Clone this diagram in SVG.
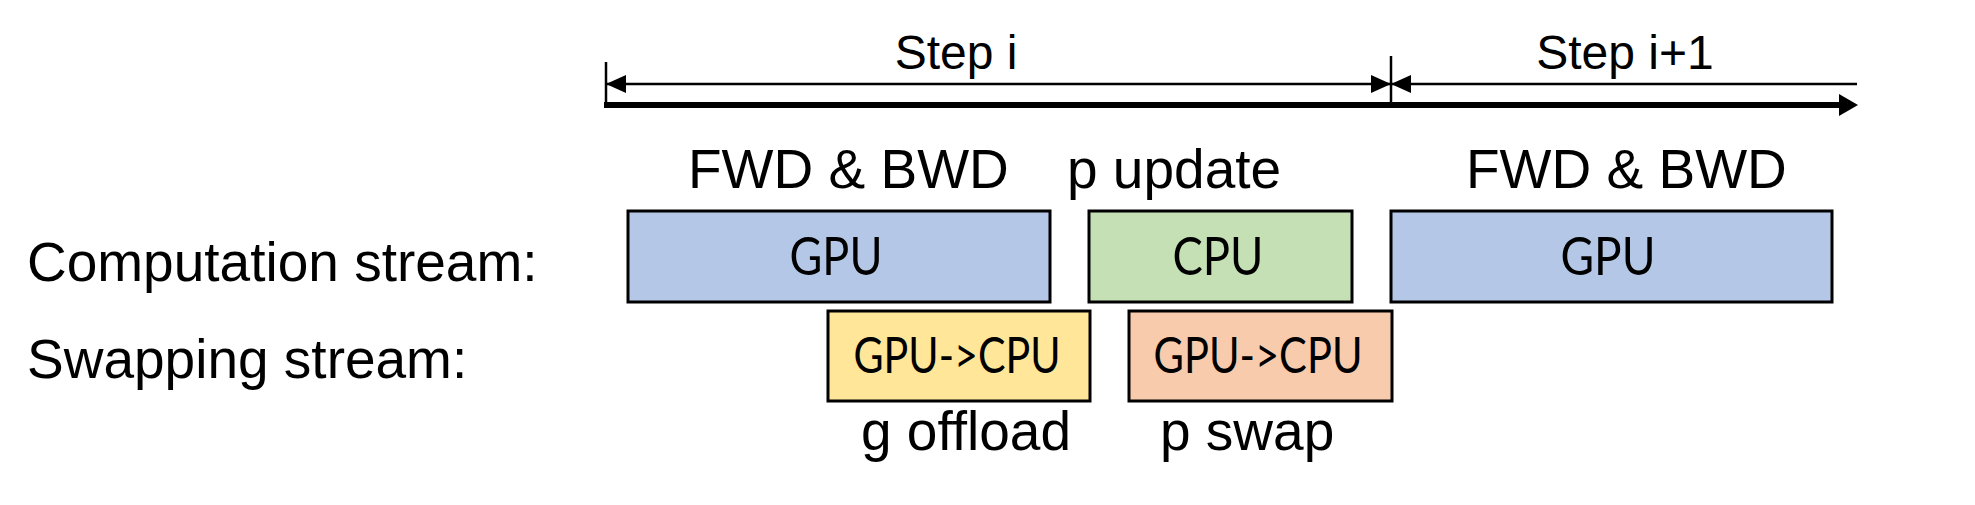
<svg xmlns="http://www.w3.org/2000/svg" width="1975" height="505" viewBox="0 0 1975 505">
  <style>
    .lbl { font-family: "Liberation Sans", Arial, sans-serif; font-size: 55px; fill: #000; }
    .step { font-family: "Liberation Sans", Arial, sans-serif; font-size: 48px; fill: #000; text-anchor: middle; }
    .box { stroke: #000; stroke-width: 3; }
    .btxt { font-family: Lato, "Open Sans", sans-serif; fill: #000; text-anchor: middle; }
    .thin { stroke: #000; stroke-width: 2.5; fill: none; }
    .thick { stroke: #000; stroke-width: 6; fill: none; }
    .blue { fill: #B4C7E7; }
    .green { fill: #C5E0B4; }
    .yellow { fill: #FFE699; }
    .orange { fill: #F8CBAD; }
  </style>
  <defs>
    <marker id="ah" viewBox="0 0 20 18" refX="20" refY="9" markerWidth="20" markerHeight="18" markerUnits="userSpaceOnUse" orient="auto-start-reverse">
      <path d="M0,0 L20,9 L0,18 Z" fill="#000"/>
    </marker>
    <marker id="ahBig" viewBox="0 0 19 22" refX="0" refY="11" markerWidth="19" markerHeight="22" markerUnits="userSpaceOnUse" orient="auto">
      <path d="M0,0 L19,11 L0,22 Z" fill="#000"/>
    </marker>
  </defs>
  <rect width="1975" height="505" fill="#fff"/>

  <g id="connectors">
    <line class="thin" x1="606" y1="62" x2="606" y2="107"/>
    <line class="thin" x1="1391" y1="56" x2="1391" y2="108"/>
    <line class="thin" x1="606" y1="84" x2="1391" y2="84" marker-start="url(#ah)" marker-end="url(#ah)"/>
    <line class="thin" x1="1391" y1="84" x2="1857" y2="84" marker-start="url(#ah)"/>
    <line class="thick" x1="604" y1="105" x2="1839" y2="105" marker-end="url(#ahBig)"/>
  </g>

  <g id="step-labels">
    <text class="step" x="956" y="69">Step i</text>
    <text class="step" x="1625" y="69">Step i+1</text>
  </g>

  <g id="row-labels">
    <text class="lbl" x="27" y="281">Computation stream:</text>
    <text class="lbl" x="27" y="378">Swapping stream:</text>
  </g>

  <g id="phase-labels">
    <text class="lbl" x="688" y="188">FWD &amp; BWD</text>
    <text class="lbl" x="1067" y="188">p update</text>
    <text class="lbl" x="1466" y="188">FWD &amp; BWD</text>
    <text class="lbl" x="861" y="450">g offload</text>
    <text class="lbl" x="1160" y="450">p swap</text>
  </g>

  <g id="gpu-compute-1">
    <rect class="box blue" x="628" y="211" width="422" height="91"/>
    <text class="btxt" x="836" y="275" font-size="53" textLength="93" lengthAdjust="spacingAndGlyphs">GPU</text>
  </g>
  <g id="cpu-update">
    <rect class="box green" x="1089" y="211" width="263" height="91"/>
    <text class="btxt" x="1218" y="275" font-size="53" textLength="91" lengthAdjust="spacingAndGlyphs">CPU</text>
  </g>
  <g id="gpu-compute-2">
    <rect class="box blue" x="1391" y="211" width="441" height="91"/>
    <text class="btxt" x="1608" y="275" font-size="53" textLength="95" lengthAdjust="spacingAndGlyphs">GPU</text>
  </g>
  <g id="g-offload">
    <rect class="box yellow" x="828" y="311" width="262" height="90"/>
    <text class="btxt" x="957" y="373" font-size="50" textLength="207" lengthAdjust="spacingAndGlyphs">GPU-&gt;CPU</text>
  </g>
  <g id="p-swap">
    <rect class="box orange" x="1129" y="311" width="263" height="90"/>
    <text class="btxt" x="1258" y="373" font-size="50" textLength="209" lengthAdjust="spacingAndGlyphs">GPU-&gt;CPU</text>
  </g>
</svg>
